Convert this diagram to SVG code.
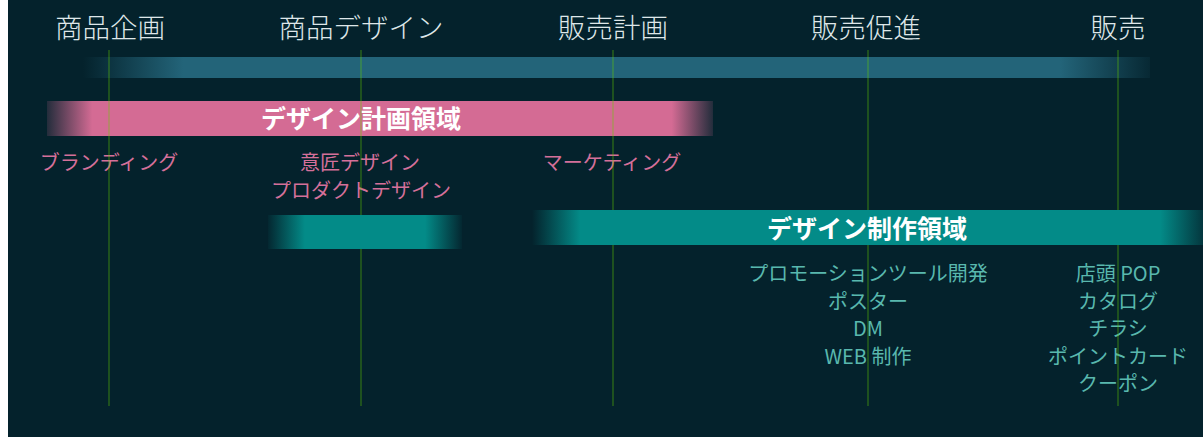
<svg xmlns="http://www.w3.org/2000/svg" width="1203" height="437" viewBox="0 0 1203 437">
<style>
.hdr{font-family:"Noto Sans CJK JP","Noto Sans",sans-serif;font-size:27.5px;font-weight:300;fill:#dfe7e9;text-anchor:middle}
.pk{font-family:"Noto Sans CJK JP","Noto Sans",sans-serif;font-size:20px;fill:#d4709a;text-anchor:middle}
.tl{font-family:"Noto Sans CJK JP","Noto Sans",sans-serif;font-size:20px;fill:#59b8ae;text-anchor:middle}
.ttl{font-family:"Noto Sans CJK JP","Noto Sans",sans-serif;font-size:25px;font-weight:bold;fill:#ffffff;text-anchor:middle}
.guide{fill:#66cc00;fill-opacity:0.28}
</style>
<defs>
<linearGradient id="gBlue" x1="0" y1="0" x2="1" y2="0">
<stop offset="0" stop-color="#236479" stop-opacity="0"/>
<stop offset="0.094" stop-color="#236479" stop-opacity="1"/>
<stop offset="0.916" stop-color="#236479" stop-opacity="1"/>
<stop offset="1" stop-color="#236479" stop-opacity="0.1"/>
</linearGradient>
<linearGradient id="gPink" x1="0" y1="0" x2="1" y2="0">
<stop offset="0" stop-color="#d46b94" stop-opacity="0.15"/>
<stop offset="0.068" stop-color="#d46b94" stop-opacity="1"/>
<stop offset="0.938" stop-color="#d46b94" stop-opacity="1"/>
<stop offset="1" stop-color="#d46b94" stop-opacity="0.15"/>
</linearGradient>
<linearGradient id="gTeal1" x1="0" y1="0" x2="1" y2="0">
<stop offset="0" stop-color="#038b88" stop-opacity="0.05"/>
<stop offset="0.19" stop-color="#038b88" stop-opacity="1"/>
<stop offset="0.81" stop-color="#038b88" stop-opacity="1"/>
<stop offset="1" stop-color="#038b88" stop-opacity="0.05"/>
</linearGradient>
<linearGradient id="gTeal2" x1="0" y1="0" x2="1" y2="0">
<stop offset="0" stop-color="#038b88" stop-opacity="0"/>
<stop offset="0.072" stop-color="#038b88" stop-opacity="1"/>
<stop offset="0.936" stop-color="#038b88" stop-opacity="1"/>
<stop offset="1" stop-color="#038b88" stop-opacity="0.2"/>
</linearGradient>
</defs>
<rect x="0" y="0" width="1203" height="437" fill="#ffffff"/>
<rect x="8" y="0" width="1195" height="437" fill="#04222c"/>

<g id="phases">
<text class="hdr" x="110" y="38">商品企画</text>
<text class="hdr" x="361" y="38">商品デザイン</text>
<text class="hdr" x="613" y="38">販売計画</text>
<text class="hdr" x="866" y="38">販売促進</text>
<text class="hdr" x="1118" y="38">販売</text>
</g>

<g id="timeline-bar">
<rect x="83" y="57" width="1067" height="21" fill="url(#gBlue)"/>
</g>

<g id="design-planning">
<rect x="47" y="101" width="666" height="35" fill="url(#gPink)"/>
<text class="ttl" x="361" y="128">デザイン計画領域</text>
</g>

<g id="planning-items">
<text class="pk" x="109" y="170">ブランディング</text>
<text class="pk" x="360" y="170">意匠デザイン</text>
<text class="pk" x="361" y="198">プロダクトデザイン</text>
<text class="pk" x="612" y="170">マーケティング</text>
</g>

<g id="production-items-promo">
<text class="tl" x="868" y="281">プロモーションツール開発</text>
<text class="tl" x="868" y="309">ポスター</text>
<text class="tl" x="868" y="336">DM</text>
<text class="tl" x="868" y="364">WEB 制作</text>
</g>

<g id="production-items-sales">
<text class="tl" x="1118" y="281">店頭 POP</text>
<text class="tl" x="1118" y="309">カタログ</text>
<text class="tl" x="1118" y="336">チラシ</text>
<text class="tl" x="1118" y="364">ポイントカード</text>
<text class="tl" x="1118" y="391">クーポン</text>
</g>

<g id="connectors">
<rect class="guide" x="108" y="50" width="2" height="356"/>
<rect class="guide" x="360" y="50" width="2" height="356"/>
<rect class="guide" x="612" y="50" width="2" height="356"/>
<rect class="guide" x="867" y="50" width="2" height="356"/>
<rect class="guide" x="1117" y="50" width="2" height="356"/>
</g>

<g id="product-design-bar">
<rect x="268" y="215" width="194" height="34" fill="url(#gTeal1)"/>
</g>

<g id="design-production">
<rect x="532" y="210" width="671" height="35" fill="url(#gTeal2)"/>
<text class="ttl" x="867" y="238">デザイン制作領域</text>
</g>
</svg>
